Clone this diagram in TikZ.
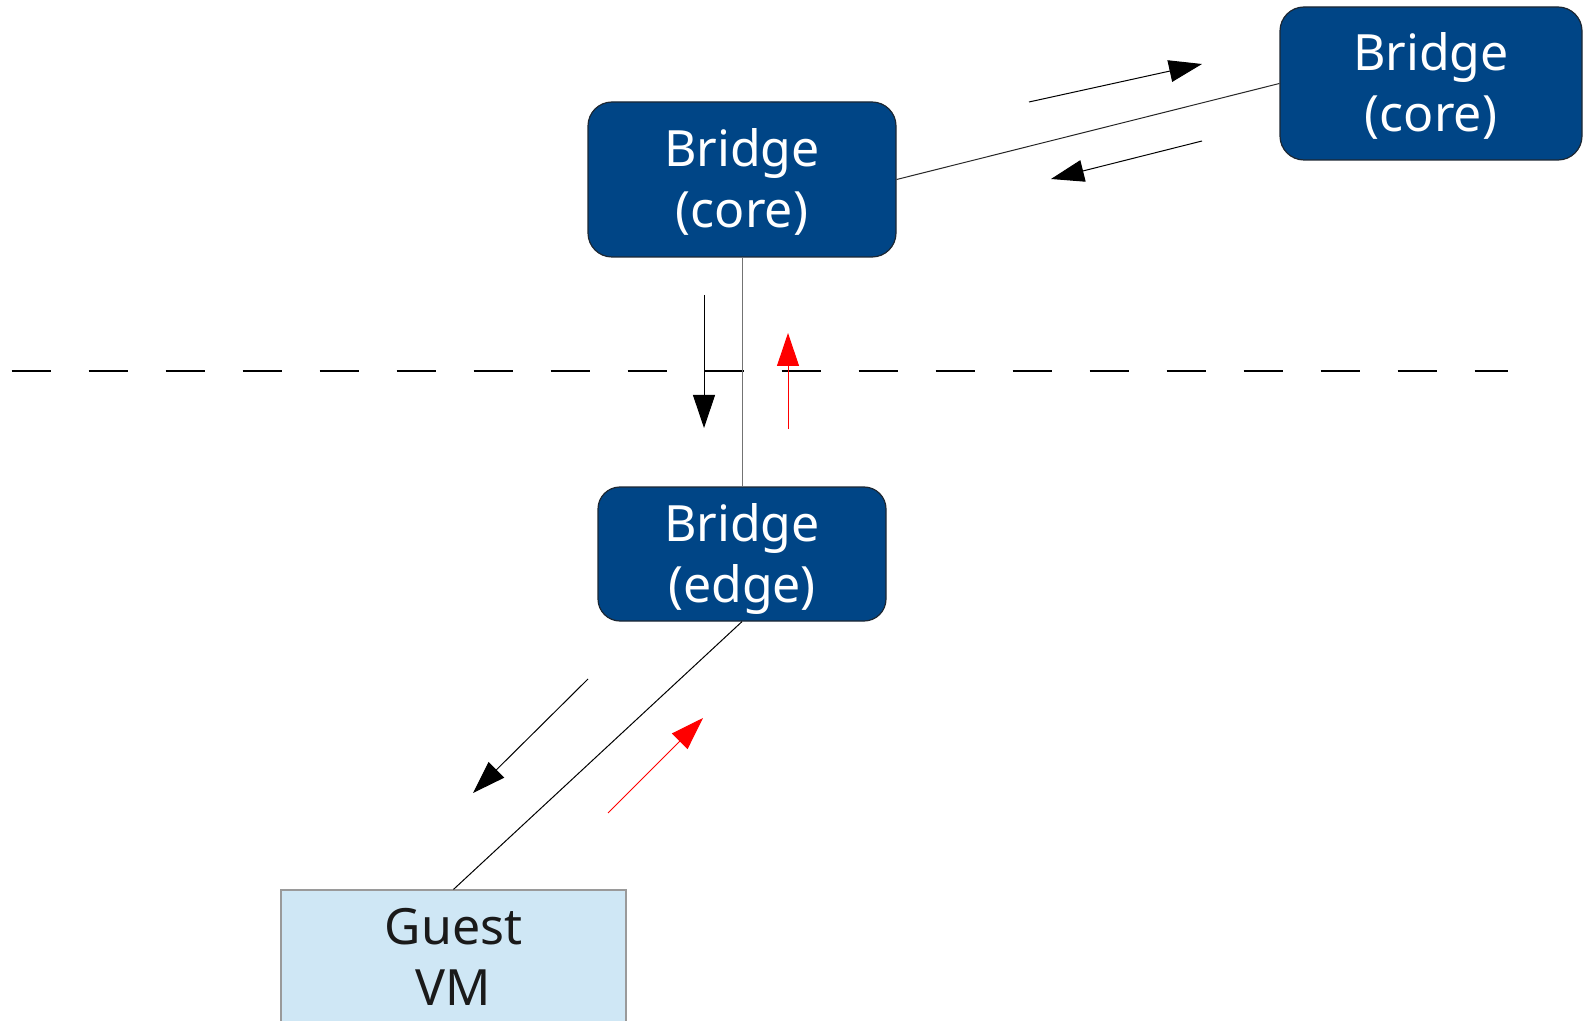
\documentclass[tikz,border=0pt]{standalone}
\usepackage{fontspec}
\setmainfont{Noto Sans}
\usetikzlibrary{arrows.meta}
\definecolor{bfill}{HTML}{004586}
\definecolor{bdraw}{HTML}{1C2733}
\definecolor{gfill}{HTML}{CFE7F5}
\definecolor{gdraw}{HTML}{9A9A9A}
\definecolor{gtext}{HTML}{1A1A1A}
\begin{document}
\begin{tikzpicture}[x=0.5pt,y=-0.5pt,
  bridge/.style={draw=bdraw, fill=bfill, rounded corners=12pt, text=white, align=center,
    font=\fontsize{25}{30.5}\selectfont, line width=0.6pt, inner sep=0pt, text depth=1.5pt},
  guest/.style={draw=gdraw, fill=gfill, text=gtext, align=center,
    font=\fontsize{25}{30.5}\selectfont, line width=0.6pt, inner sep=0pt},
  link/.style={line width=0.5pt},
  flow/.style={line width=0.5pt, -{Triangle[length=16.5pt,width=11pt]}},
  ]
\useasboundingbox (0,0) rectangle (1584,1021);
\clip (0,0) rectangle (1584,1021);

% dashed boundary
\draw[line width=0.6pt, dash pattern=on 19.5pt off 19pt] (11.5,371) -- (1508,371);

% nodes
\node[bridge, minimum width=154pt, minimum height=77.5pt] (coreA) at (742,179.5) {Bridge\\(core)};
\node[bridge, minimum width=151pt, minimum height=76.5pt] (coreB) at (1431,83.5) {Bridge\\(core)};
\node[bridge, rounded corners=11pt, minimum width=144pt, minimum height=67pt] (edge) at (742,554) {Bridge\\(edge)};
\node[guest, minimum width=172.5pt, minimum height=66.5pt] (guest) at (453.5,956.5) {Guest\\VM};

% links
\draw[link, black!85] (coreA.east) -- (coreB.west);
\draw[link, black!55] (coreA.south) -- (edge.north);
\draw[link] (edge.south) -- (guest.north);

% flow arrow end points
\coordinate (a1s) at (1029,102);  \coordinate (a1e) at (1202,64);
\coordinate (a2s) at (1202,141);  \coordinate (a2e) at (1051,179);
\coordinate (a3s) at (704,295);   \coordinate (a3e) at (704,428);
\coordinate (a4s) at (788,429);   \coordinate (a4e) at (788,333);
\coordinate (a5s) at (588,679);   \coordinate (a5e) at (473,793);
\coordinate (a6s) at (608,813);   \coordinate (a6e) at (703,718);

\draw[flow] (a1s) -- (a1e);
\draw[flow] (a2s) -- (a2e);
\draw[flow] (a3s) -- (a3e);
\draw[flow, red] (a4s) -- (a4e);
\draw[flow] (a5s) -- (a5e);
\draw[flow, red] (a6s) -- (a6e);
\end{tikzpicture}
\end{document}
